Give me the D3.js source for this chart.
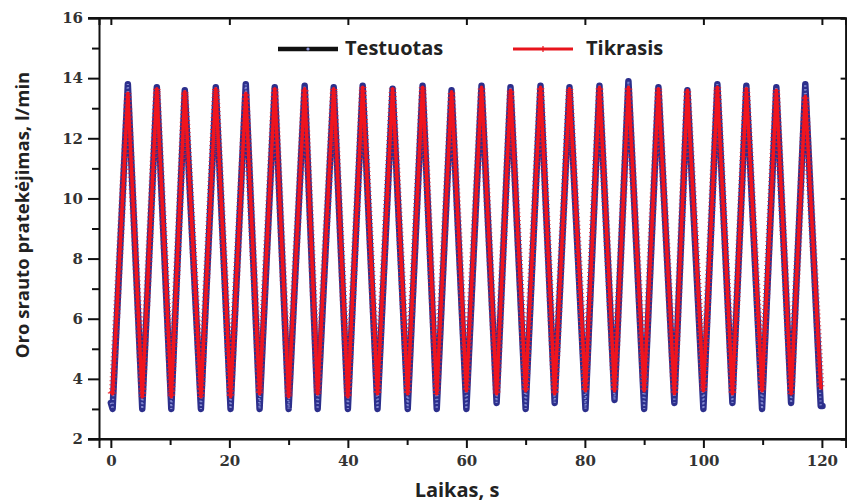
<!DOCTYPE html>
<html><head><meta charset="utf-8">
<script src="https://cdn.jsdelivr.net/npm/d3@7"></script>
<style>html,body{margin:0;padding:0;background:#fff;}svg{display:block;}</style>
</head><body><svg id="c" width="847" height="504"></svg>
<script>
// ---- data ----
const troughTimes = [0.3, 5.3, 10.2, 15.2, 20.2, 25.1, 30.0, 34.9, 40.0, 45.0, 50.1, 55.0, 60.0, 65.1, 70.0, 74.9, 80.1, 85.0, 90.0, 95.1, 100.0, 104.9, 109.9, 114.8, 119.8];
const peakTimes = [2.87, 7.76, 12.48, 17.71, 22.77, 27.66, 32.71, 37.61, 42.5, 47.55, 52.61, 57.5, 62.56, 67.45, 72.51, 77.4, 82.46, 87.35, 92.41, 97.3, 102.36, 107.25, 112.31, 117.2];
const testuotasPeaks = [13.8, 13.7, 13.6, 13.7, 13.8, 13.7, 13.75, 13.7, 13.75, 13.65, 13.75, 13.6, 13.75, 13.7, 13.75, 13.7, 13.75, 13.9, 13.7, 13.6, 13.8, 13.75, 13.7, 13.8];
const testuotasTroughs = [3.0, 3.0, 3.0, 3.0, 3.0, 3.0, 3.0, 3.0, 3.0, 3.0, 3.0, 3.0, 3.0, 3.2, 3.0, 3.2, 3.0, 3.3, 3.0, 3.2, 3.0, 3.2, 3.0, 3.2, 3.1];
const tikrasisPeaks = [13.5, 13.65, 13.55, 13.65, 13.5, 13.65, 13.65, 13.65, 13.7, 13.65, 13.7, 13.55, 13.7, 13.6, 13.7, 13.65, 13.7, 13.7, 13.65, 13.6, 13.7, 13.65, 13.6, 13.4];
const tikrasisTroughs = [3.5, 3.4, 3.4, 3.4, 3.4, 3.5, 3.4, 3.5, 3.4, 3.5, 3.5, 3.5, 3.6, 3.5, 3.6, 3.5, 3.6, 3.6, 3.6, 3.5, 3.6, 3.5, 3.6, 3.5, 3.7];
const startPoint = {t: 0, testuotas: 3.2, tikrasis: 3.6};
const endPoint = {t: 120.1, testuotas: 3.1, tikrasis: 3.7};
const xTicksMajor = [0, 20, 40, 60, 80, 100, 120];
const xTicksMinor = [10, 30, 50, 70, 90, 110];
const yTicksMajor = [2, 4, 6, 8, 10, 12, 14, 16];
const yTicksMinor = [3, 5, 7, 9, 11, 13, 15];
const seriesNames = ["Testuotas", "Tikrasis"];
const xTitle = "Laikas, s";
const yTitle = "Oro srauto pratekėjimas, l/min";

function buildSeries(start, troughs, peaks, key, end) {
  const pts = [[start.t, start[key]]];
  troughTimes.forEach((t, i) => {
    pts.push([t, troughs[i]]);
    if (i < peakTimes.length) pts.push([peakTimes[i], peaks[i]]);
  });
  pts.push([end.t, end[key]]);
  return pts;
}
const testData = buildSeries(startPoint, testuotasTroughs, testuotasPeaks, "testuotas", endPoint);
const realData = buildSeries(startPoint, tikrasisTroughs, tikrasisPeaks, "tikrasis", endPoint);

// ---- layout ----
const svg = d3.select("#c");
const L = 99, R = 845.6, T = 18, B = 439;
const x = d3.scaleLinear().domain([-2, 124]).range([L, R]);
const y = d3.scaleLinear().domain([2, 16]).range([B, T]);

const line = d3.line().x(d => x(d[0])).y(d => y(d[1])).curve(d3.curveLinear);

const g = svg.append("g");
// Testuotas (navy, circle markers)
g.append("path").attr("d", line(testData)).attr("fill", "none")
  .attr("stroke", "#2c2f8c").attr("stroke-width", 6.5).attr("stroke-linejoin", "round").attr("stroke-linecap", "round");
g.append("path").attr("d", line(testData)).attr("fill", "none")
  .attr("stroke", "#9aa0e0").attr("stroke-width", 2.2).attr("stroke-dasharray", "1.2 2.6").attr("opacity", 0.8);
// Tikrasis (red, cross markers)
g.append("path").attr("d", line(realData)).attr("fill", "none")
  .attr("stroke", "#ee1c24").attr("stroke-width", 7.5).attr("stroke-dasharray", "1 3").attr("opacity", 0.85);
g.append("path").attr("d", line(realData)).attr("fill", "none")
  .attr("stroke", "#f0141e").attr("stroke-width", 3.4).attr("stroke-linejoin", "round");

// ---- axes ----
const tickFont = "DejaVu Serif";
const axStroke = "#111";
svg.append("g").attr("transform", `translate(0,${B})`)
  .call(d3.axisBottom(x).tickValues(xTicksMajor).tickSize(9).tickPadding(7).tickFormat(d3.format("d")));
svg.append("g").attr("transform", `translate(0,${B})`)
  .call(d3.axisBottom(x).tickValues(xTicksMinor).tickSize(6).tickFormat(""))
  .call(s => s.select(".domain").remove());
svg.append("g").attr("transform", `translate(0,${T})`)
  .call(d3.axisBottom(x).tickValues(xTicksMajor).tickSize(7).tickFormat(""));
svg.append("g").attr("transform", `translate(${L},0)`)
  .call(d3.axisLeft(y).tickValues(yTicksMajor).tickSize(11).tickPadding(5).tickFormat(d3.format("d")));
svg.append("g").attr("transform", `translate(${L},0)`)
  .call(d3.axisLeft(y).tickValues(yTicksMinor).tickSize(7).tickFormat(""))
  .call(s => s.select(".domain").remove());
svg.append("g").attr("transform", `translate(${R},0)`)
  .call(d3.axisRight(y).tickValues(yTicksMajor).tickSize(-5).tickFormat(""));

svg.selectAll(".domain").attr("stroke", axStroke).attr("stroke-width", 2);
svg.selectAll(".tick line").attr("stroke", axStroke).attr("stroke-width", 2);
svg.selectAll(".tick text").attr("font-family", tickFont).attr("font-weight", "bold")
  .attr("font-size", 15).attr("fill", "#333");
svg.append("line").attr("x1", L - 11).attr("x2", R).attr("y1", T).attr("y2", T).attr("stroke", axStroke).attr("stroke-width", 2);
svg.append("line").attr("x1", L - 11).attr("x2", R).attr("y1", B).attr("y2", B).attr("stroke", axStroke).attr("stroke-width", 2);

// ---- titles ----
const titleFont = "Open Sans";
svg.append("text").attr("x", 457).attr("y", 497).attr("text-anchor", "middle")
  .attr("font-family", titleFont).attr("font-weight", "bold").attr("font-size", 20).attr("fill", "#222").text(xTitle);
svg.append("text").attr("transform", "translate(29,215) rotate(-90)").attr("text-anchor", "middle")
  .attr("font-family", titleFont).attr("font-weight", "bold").attr("font-size", 18.5).attr("fill", "#222").text(yTitle);

// ---- legend ----
const lg = svg.append("g");
lg.append("line").attr("x1", 278).attr("x2", 338).attr("y1", 49).attr("y2", 49).attr("stroke", "#111").attr("stroke-width", 4.5);
lg.append("circle").attr("cx", 308).attr("cy", 49).attr("r", 1.6).attr("fill", "#8f95dd");
lg.append("text").attr("x", 345).attr("y", 55).attr("font-family", titleFont).attr("font-weight", "bold")
  .attr("font-size", 20).attr("fill", "#222").text(seriesNames[0]);
lg.append("line").attr("x1", 513).attr("x2", 573).attr("y1", 49).attr("y2", 49).attr("stroke", "#e8141c").attr("stroke-width", 3);
lg.append("path").attr("d", "M540,49h6M543,46v6").attr("stroke", "#e8141c").attr("stroke-width", 1.2);
lg.append("text").attr("x", 586).attr("y", 55).attr("font-family", titleFont).attr("font-weight", "bold")
  .attr("font-size", 20).attr("fill", "#222").text(seriesNames[1]);
</script></body></html>
